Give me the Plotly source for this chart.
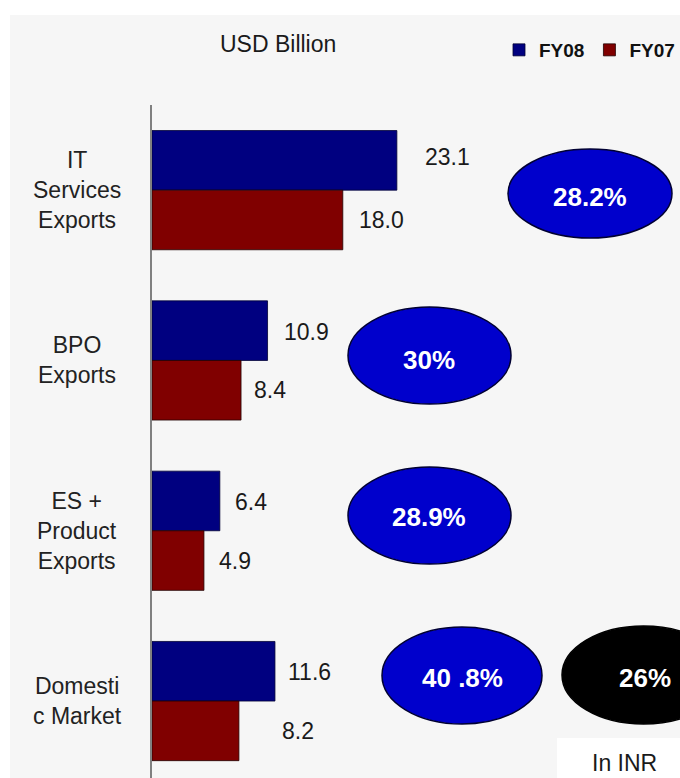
import plotly.graph_objects as go

# ---- data ----
categories = ["IT Services Exports", "BPO Exports", "ES + Product Exports", "Domestic Market"]
tick_labels = ["IT<br>Services<br>Exports", "BPO<br>Exports", "ES +<br>Product<br>Exports", "Domesti<br>c Market"]
fy08 = [23.1, 10.9, 6.4, 11.6]
fy07 = [18.0, 8.4, 4.9, 8.2]
growth_usd = ["28.2%", "30%", "28.9%", "40 .8%"]
growth_inr = "26%"
unit_label = "USD Billion"
inr_label = "In INR"

# ---- geometry helpers (pixel -> paper) ----
W, H = 680, 778
L, T = 152, 105
PW, PH = W - L, H - T


def px(x):
    return (x - L) / PW


def py(y):
    return (H - y) / PH


FONT = "Liberation Sans, Arial, sans-serif"
NAVY = "#000080"
MAROON = "#800000"

fig = go.Figure()
fig.add_trace(go.Bar(name="FY08", y=categories, x=fy08, orientation="h",
                     marker=dict(color=NAVY, line=dict(color="#000033", width=0.8))))
fig.add_trace(go.Bar(name="FY07", y=categories, x=fy07, orientation="h",
                     marker=dict(color=MAROON, line=dict(color="#220000", width=0.8))))

annotations = []
# value labels
shift08 = [26, 14, 13, 11]
shift07 = [14, 11, 13, 41]
for i in range(len(categories)):
    annotations.append(dict(x=fy08[i], y=i - 0.175, xref="x", yref="y", text=f"{fy08[i]:.1f}",
                            showarrow=False, xanchor="left", yanchor="middle", xshift=shift08[i],
                            yshift=3 if i == 0 else -1,
                            font=dict(family=FONT, size=23, color="#1a1a1a")))
    annotations.append(dict(x=fy07[i], y=i + 0.175, xref="x", yref="y", text=f"{fy07[i]:.1f}",
                            showarrow=False, xanchor="left", yanchor="middle", xshift=shift07[i],
                            font=dict(family=FONT, size=23, color="#1a1a1a")))
    # category labels (centered, multi-line)
    annotations.append(dict(x=px(77), y=categories[i], xref="paper", yref="y", text=tick_labels[i],
                            showarrow=False, xanchor="center", yanchor="middle", align="center",
                            font=dict(family=FONT, size=23, color="#222222")))

# growth ellipses
ell_boxes = [(508, 149, 672, 238), (348, 307, 511, 404), (348, 467, 511, 564), (382, 627, 542, 724)]
ell_text = [(590, 197), (429, 360), (429, 517), (462, 678)]
shapes = []
# background panel (dotted grey texture approximated by a light tint)
shapes.append(dict(type="rect", xref="paper", yref="paper", x0=px(10), x1=px(W + 5), y0=py(H + 5), y1=py(15),
                   fillcolor="#f6f6f6", line=dict(width=0), layer="below"))
# white box behind "In INR"
shapes.append(dict(type="rect", xref="paper", yref="paper", x0=px(557), x1=px(W + 5), y0=py(H + 5), y1=py(738),
                   fillcolor="#ffffff", line=dict(width=0), layer="below"))
ELL_FONT = "Liberation Sans Narrow, Arial Narrow, Liberation Sans, Arial, sans-serif"
for (x0, y0, x1, y1), (tx, ty), g in zip(ell_boxes, ell_text, growth_usd):
    shapes.append(dict(type="circle", xref="paper", yref="paper", x0=px(x0), x1=px(x1), y0=py(y1), y1=py(y0),
                       fillcolor="#0000CC", line=dict(color="#000033", width=1.5), layer="above"))
    annotations.append(dict(x=px(tx), y=py(ty), xref="paper", yref="paper", text=g, showarrow=False,
                            xanchor="center", yanchor="middle",
                            font=dict(family=ELL_FONT, size=26, color="white", weight="bold")))
shapes.append(dict(type="circle", xref="paper", yref="paper", x0=px(562), x1=px(725), y0=py(724), y1=py(626),
                   fillcolor="#000000", line=dict(color="#000000", width=1.5), layer="above"))
annotations.append(dict(x=px(645), y=py(678), xref="paper", yref="paper", text=growth_inr, showarrow=False,
                        xanchor="center", yanchor="middle",
                        font=dict(family=ELL_FONT, size=26, color="white", weight="bold")))
annotations.append(dict(x=px(624), y=py(763), xref="paper", yref="paper", text=inr_label, showarrow=False,
                        xanchor="center", yanchor="middle",
                        font=dict(family=FONT, size=23, color="#1a1a1a")))
annotations.append(dict(x=px(278), y=py(44), xref="paper", yref="paper", text=unit_label, showarrow=False,
                        xanchor="center", yanchor="middle",
                        font=dict(family=FONT, size=23, color="#1a1a1a")))

fig.update_layout(
    width=W, height=H,
    margin=dict(l=L, r=0, t=T, b=0, pad=0),
    paper_bgcolor="#ffffff",
    plot_bgcolor="rgba(0,0,0,0)",
    barmode="group", bargap=0.3, bargroupgap=0,
    showlegend=True,
    legend=dict(orientation="h", x=1.0, xanchor="right", y=py(50), yanchor="middle",
                font=dict(family=FONT, size=19, color="#111111", weight="bold"),
                bgcolor="rgba(0,0,0,0)", itemwidth=30, traceorder="normal"),
    xaxis=dict(range=[0, PW / 10.6], visible=False, showgrid=False, zeroline=False),
    yaxis=dict(categoryorder="array", categoryarray=categories, range=[-0.5 + PH / 170.3, -0.5],
               showticklabels=False, showgrid=False, zeroline=False, ticks="",
               showline=True, linecolor="#808080", linewidth=1.5),
    shapes=shapes,
    annotations=annotations,
    font=dict(family=FONT),
)

fig.write_html("out.html", config={"displayModeBar": False},
               post_script="document.body.style.margin='0';document.body.style.overflow='hidden';")
